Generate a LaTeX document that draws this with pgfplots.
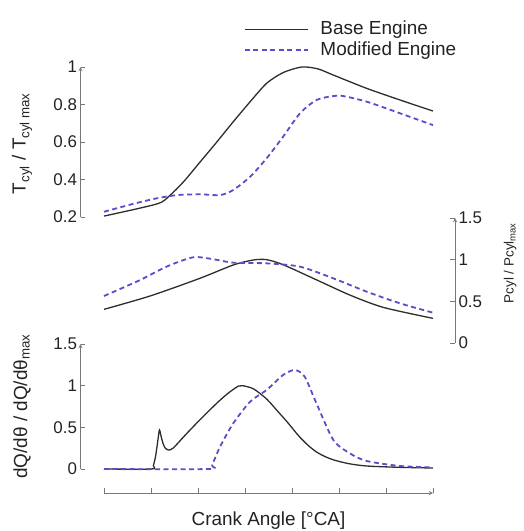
\documentclass[border=0pt]{standalone}
\usepackage{fontspec}
\setmainfont{Liberation Sans}
\usepackage{pgfplots}
\pgfplotsset{compat=1.18}

\definecolor{axisgray}{RGB}{120,120,120}
\definecolor{basecol}{RGB}{45,45,45}
\definecolor{modcol}{RGB}{88,78,200}
\definecolor{txtcol}{RGB}{35,35,35}

\newcommand{\tickfont}{\fontsize{17}{19}\selectfont}
\newcommand{\lblfont}{\fontsize{19}{21}\selectfont}
\newcommand{\smallfont}{\fontsize{13.5}{15}\selectfont}

\pgfplotsset{
  stack/.style={
    scale only axis,
    clip=false,
    axis line style={draw=axisgray, line width=0.9bp, -},
    every outer x axis line/.append style={-},
    every outer y axis line/.append style={-},
    tick style={draw=axisgray, line width=0.9bp},
    major tick length=5bp,
    ticklabel style={font=\tickfont, text=txtcol},
    /pgf/number format/assume math mode=true,
  },
  base/.style={basecol, line width=1.3bp, smooth, tension=0.45},
  modified/.style={modcol, line width=1.8bp, dash pattern=on 5bp off 3.5bp, smooth, tension=0.45},
}

\begin{document}
\begin{tikzpicture}
\useasboundingbox (0bp,0bp) rectangle (524bp,-531bp);

% ---- cylinder temperature ----
\begin{axis}[
  stack,
  at={(80.5bp,-217bp)}, anchor=south west,
  width=352.5bp, height=150bp,
  xmin=-0.5, xmax=7, ymin=0.2, ymax=1,
  axis y line=left, axis x line=none,
  ytick={0.2,0.4,0.6,0.8,1},
  tick align=inside,
  ylabel={T\textsubscript{cyl} / T\textsubscript{cyl max}},
  ylabel style={at={(axis description cs:-0.166,0.49)}, anchor=center,
    rotate=0, font=\lblfont, text=txtcol},
  legend style={draw=none, fill=none, font=\lblfont, text=txtcol,
    at={(0.4624,1.313)}, anchor=north west, row sep=3bp, column sep=12bp,
    inner sep=0pt, nodes={inner sep=0bp, text height=14bp, text depth=4bp}},
  legend cell align=left,
  legend image code/.code={\draw[#1] (0bp,0bp) -- (63bp,0bp);},
]
\addplot[base] coordinates {
  (0,0.205) (1.13,0.27) (1.4,0.315) (1.7,0.39) (2.0,0.48)
  (2.40,0.60) (2.75,0.708) (3.11,0.815) (3.46,0.913) (3.81,0.97)
  (4.21,1.0) (4.55,0.99) (4.88,0.957) (5.59,0.886) (6.30,0.824) (7,0.765)
};
\addlegendentry{Base Engine}
\addplot[modified] coordinates {
  (0,0.228) (0.62,0.27) (1.13,0.30) (1.56,0.317) (2.04,0.321)
  (2.47,0.317) (2.75,0.344) (3.11,0.415) (3.46,0.513) (3.81,0.628)
  (4.17,0.753) (4.52,0.824) (4.88,0.845) (5.09,0.845) (5.59,0.815)
  (6.30,0.753) (7,0.69)
};
\addlegendentry{Modified Engine}
\end{axis}

% ---- cylinder pressure ----
\begin{axis}[
  stack,
  at={(80.5bp,-343bp)}, anchor=south west,
  width=374.5bp, height=125bp,
  xmin=-0.5, xmax=7.47, ymin=0, ymax=1.5,
  axis y line=right, axis x line=none,
  ytick={0,0.5,1,1.5},
  tick align=inside,
  ylabel={Pcyl / Pcyl\textsubscript{max}},
  ylabel style={at={(axis description cs:1.147,0.64)}, anchor=center,
    rotate=0, font=\smallfont, text=txtcol},
]
\addplot[base] coordinates {
  (0,0.404) (0.98,0.564) (2.04,0.776) (2.75,0.936) (3.18,0.996)
  (3.46,1.0) (3.81,0.94) (4.53,0.756) (5.23,0.576) (5.94,0.428) (7,0.296)
};
\addplot[modified] coordinates {
  (0,0.564) (0.77,0.756) (1.33,0.916) (1.90,1.029) (2.33,1.005)
  (2.75,0.964) (3.46,0.956) (4.17,0.916) (4.88,0.776) (5.59,0.616)
  (6.30,0.476) (7,0.364)
};
\end{axis}

% ---- heat release rate ----
\begin{axis}[
  stack,
  at={(80.5bp,-469bp)}, anchor=south west,
  width=352.5bp, height=125bp,
  xmin=-0.5, xmax=7, ymin=0, ymax=1.5,
  axis y line=left, axis x line=none,
  ytick={0,0.5,1,1.5},
  tick align=inside,
  ylabel={dQ/dθ / dQ/dθ\textsubscript{max}},
  ylabel style={at={(axis description cs:-0.166,0.5)}, anchor=center,
    rotate=0, font=\lblfont, text=txtcol},
]
\addplot[base, smooth=false] coordinates {
  (0,0) (1.01,0) (1.05,0.04) (1.10,0.16) (1.15,0.36) (1.18,0.468)
  (1.22,0.38) (1.26,0.30) (1.31,0.245) (1.37,0.228) (1.47,0.25)
  (1.75,0.42) (2.04,0.59) (2.40,0.79) (2.62,0.90) (2.75,0.955) (2.86,0.995)
  (2.95,1.0) (3.18,0.962) (3.46,0.84) (3.70,0.69) (3.89,0.57) (4.05,0.46)
  (4.17,0.38) (4.35,0.28) (4.52,0.205) (4.70,0.15) (4.88,0.11)
  (5.20,0.065) (5.59,0.036) (6.30,0.02) (7,0.012)
};
\addplot[modified] coordinates {
  (0,0) (2.22,0) (2.30,0.05) (2.47,0.268) (2.75,0.548) (3.11,0.808)
  (3.46,0.948) (3.81,1.128) (4.06,1.188) (4.27,1.108) (4.52,0.788)
  (4.88,0.348) (5.23,0.188) (5.59,0.096) (6.30,0.036) (7,0.02)
};
\end{axis}

% ---- shared crank angle axis ----
\begin{axis}[
  stack,
  at={(104bp,-493bp)}, anchor=south west,
  width=329bp, height=20bp,
  xmin=0, xmax=7, ymin=0, ymax=1,
  axis x line=bottom, axis y line=none,
  xtick={0,1,...,7}, xticklabels={,,,,,,,},
  tick align=inside,
  xlabel={Crank Angle [°CA]},
  xlabel style={at={(axis description cs:0.5,0)}, anchor=center,
    yshift=-28bp, font=\lblfont, text=txtcol},
]
\addplot[draw=none] coordinates {(0,0) (7,1)};
\end{axis}
\end{tikzpicture}
\end{document}
